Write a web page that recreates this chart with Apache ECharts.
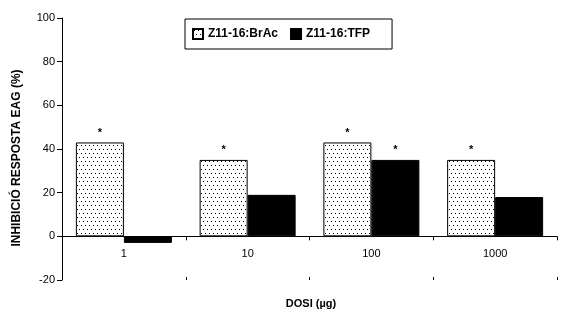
<!DOCTYPE html>
<html>
<head>
<meta charset="utf-8">
<script src="https://cdn.jsdelivr.net/npm/echarts@6/dist/echarts.min.js"></script>
<style>
  html, body { margin: 0; padding: 0; background: #fff; }
  #chart { width: 571px; height: 326px; }
</style>
</head>
<body>
<div id="chart"></div>
<script>
  // dades llegides del gràfic
  var doses = ['1', '10', '100', '1000']
  var brac = [43, 35, 43, 35]
  var tfp = [-3, 19, 35, 18]
  var bracSig = [true, true, true, true]
  var tfpSig = [false, false, true, false]
  var yTicks = { min: -20, max: 100, step: 20 }

  // trama de punts per a la primera sèrie
  function dotPattern () {
    var c = document.createElement('canvas')
    c.width = 8
    c.height = 8
    var ctx = c.getContext('2d')
    ctx.fillStyle = '#fff'
    ctx.fillRect(0, 0, 8, 8)
    ctx.fillStyle = '#000'
    ctx.fillRect(1, 1, 1, 1)
    ctx.fillRect(5, 1, 1, 1)
    ctx.fillRect(3, 5, 1, 1)
    ctx.fillRect(7, 5, 1, 1)
    return c
  }

  var font = 'Liberation Sans, Arial, sans-serif'

  function starLabel (sig) {
    return {
      show: true,
      position: 'top',
      distance: 4,
      color: '#000',
      fontFamily: font,
      fontWeight: 'bold',
      fontSize: 11,
      formatter: function (p) { return sig[p.dataIndex] ? '*' : '' }
    }
  }

  var chart = echarts.init(document.getElementById('chart'))
  var option = {
    animation: false,
    backgroundColor: '#fff',
    grid: { left: 62, right: 14, top: 18, bottom: 46 },
    legend: {
      left: 185,
      top: 19,
      padding: [9, 22, 9, 7],
      borderColor: '#000',
      borderWidth: 1,
      icon: 'rect',
      itemWidth: 10,
      itemHeight: 10,
      itemGap: 12,
      textStyle: { fontFamily: font, fontWeight: 'bold', fontSize: 12, color: '#000' },
      data: ['Z11-16:BrAc', 'Z11-16:TFP']
    },
    xAxis: [
      {
        type: 'category',
        data: doses,
        axisLine: { onZero: true, lineStyle: { color: '#000', width: 1 } },
        axisTick: { show: true, length: 4, lineStyle: { color: '#000' } },
        // les etiquetes queden a la vora de la graella: les pugem fins sota el zero
        axisLabel: { color: '#000', fontFamily: font, fontSize: 11, margin: -32 }
      },
      {
        type: 'category',
        data: doses,
        position: 'bottom',
        axisLine: { show: false, onZero: true },
        axisTick: { show: true, inside: true, length: 3, lineStyle: { color: '#000' } },
        axisLabel: { show: false }
      }
    ],
    yAxis: {
      type: 'value',
      min: yTicks.min,
      max: yTicks.max,
      interval: yTicks.step,
      axisLine: { show: true, lineStyle: { color: '#000', width: 1 } },
      axisTick: { show: true, length: 5, lineStyle: { color: '#000' } },
      axisLabel: { color: '#000', fontFamily: font, fontSize: 11, margin: 7 },
      splitLine: { show: false }
    },
    graphic: [
      {
        type: 'text',
        x: 17,
        y: 158,
        rotation: Math.PI / 2,
        style: {
          text: 'INHIBICIÓ RESPOSTA EAG (%)',
          fontFamily: font,
          fontWeight: 'bold',
          fontSize: 12,
          fill: '#000',
          textAlign: 'center',
          textVerticalAlign: 'middle'
        }
      },
      {
        type: 'text',
        x: 311,
        y: 304,
        style: {
          text: 'DOSI (µg)',
          fontFamily: font,
          fontWeight: 'bold',
          fontSize: 11,
          fill: '#000',
          textAlign: 'center',
          textVerticalAlign: 'middle'
        }
      }
    ],
    series: [
      {
        name: 'Z11-16:BrAc',
        type: 'bar',
        data: brac,
        barWidth: 48,
        barGap: '0%',
        itemStyle: {
          color: { image: dotPattern(), repeat: 'repeat' },
          borderColor: '#000',
          borderWidth: 1
        },
        label: starLabel(bracSig)
      },
      {
        name: 'Z11-16:TFP',
        type: 'bar',
        data: tfp,
        barWidth: 48,
        barGap: '0%',
        itemStyle: { color: '#000', borderColor: '#000', borderWidth: 1 },
        label: starLabel(tfpSig)
      }
    ]
  }
  chart.setOption(option)
  window.addEventListener('resize', function () {
    chart.resize()
  })
</script>
</body>
</html>
